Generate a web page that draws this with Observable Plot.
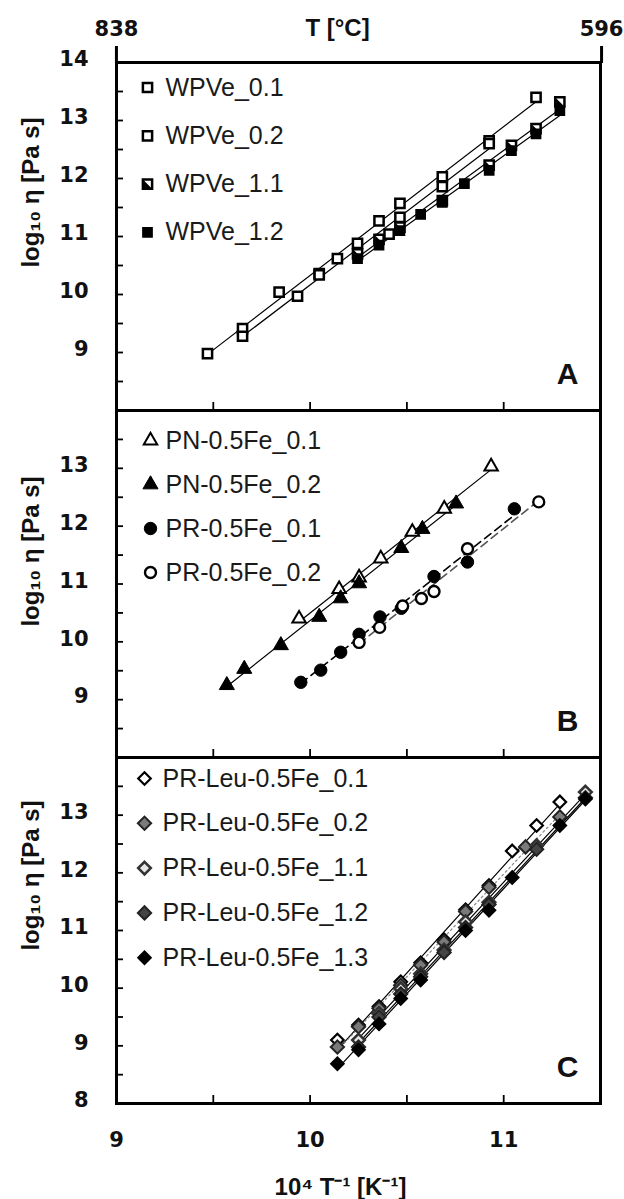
<!DOCTYPE html>
<html><head><meta charset="utf-8">
<script src="https://cdn.jsdelivr.net/npm/d3@7"></script>
<script src="https://cdn.jsdelivr.net/npm/@observablehq/plot@0.6"></script>
<style>
html,body{margin:0;padding:0;background:#fff;}
#chart{position:relative;width:624px;height:1199px;background:#fff;overflow:hidden;}
#chart svg{position:absolute;left:0;overflow:visible;}
g[aria-label="legend"] text{letter-spacing:0.6px;}
</style></head><body><div id="chart"></div>
<script>
// ---------- data: [10^4/T, log10 eta] ----------
const wpve01 = [[9.470,8.98],[9.651,9.41],[9.840,10.04],[10.047,10.36],[10.245,10.88],[10.356,11.27],[10.464,11.57],[10.683,12.03],[10.925,12.65],[11.167,13.40]];
const wpve02 = [[9.651,9.28],[9.935,9.97],[10.047,10.34],[10.141,10.62],[10.408,11.04],[10.464,11.33],[10.683,11.86],[10.925,12.60]];
const wpve11 = [[10.245,10.70],[10.356,10.95],[10.464,11.16],[10.683,11.62],[10.925,12.23],[11.040,12.57],[11.167,12.86],[11.290,13.32]];
const wpve12 = [[10.245,10.62],[10.356,10.85],[10.464,11.10],[10.571,11.38],[10.683,11.59],[10.797,11.91],[10.925,12.14],[11.040,12.48],[11.167,12.77],[11.290,13.17]];

const pn01 = [[9.943,10.40],[10.150,10.91],[10.253,11.11],[10.365,11.44],[10.528,11.90],[10.693,12.30],[10.935,13.03]];
const pn02 = [[9.570,9.25],[9.660,9.53],[9.849,9.94],[10.047,10.43],[10.158,10.75],[10.253,11.01],[10.471,11.62],[10.580,11.95],[10.754,12.39]];
const pr01 = [[9.952,9.30],[10.055,9.51],[10.158,9.82],[10.253,10.13],[10.361,10.43],[10.471,10.58],[10.640,11.13],[10.813,11.38],[11.055,12.30]];
const pr02 = [[10.253,9.99],[10.359,10.25],[10.478,10.62],[10.575,10.75],[10.640,10.87],[10.813,11.61],[11.181,12.42]];

const leu01 = [[10.141,9.10],[10.250,9.36],[10.356,9.68],[10.468,10.11],[10.571,10.44],[10.692,10.84],[10.803,11.36],[10.924,11.78],[11.044,12.38],[11.170,12.82],[11.290,13.23]];
const leu02 = [[10.141,8.98],[10.250,9.33],[10.356,9.65],[10.468,10.05],[10.571,10.40],[10.692,10.80],[10.803,11.33],[10.924,11.75],[11.113,12.45],[11.290,12.97]];
const leu11 = [[10.250,9.10],[10.356,9.56],[10.468,9.99],[10.571,10.25],[10.692,10.66],[10.803,11.15],[10.924,11.49],[11.170,12.47],[11.422,13.40]];
const leu12 = [[10.250,8.98],[10.356,9.50],[10.468,9.90],[10.571,10.20],[10.692,10.62],[10.803,11.05],[10.924,11.45],[11.170,12.41],[11.422,13.30]];
const leu13 = [[10.141,8.69],[10.250,8.93],[10.356,9.38],[10.468,9.82],[10.571,10.14],[10.803,11.00],[10.924,11.35],[11.044,11.92],[11.290,12.82],[11.422,13.28]];

const namesA = ["WPVe_0.1","WPVe_0.2","WPVe_1.1","WPVe_1.2"];
const namesB = ["PN-0.5Fe_0.1","PN-0.5Fe_0.2","PR-0.5Fe_0.1","PR-0.5Fe_0.2"];
const namesC = ["PR-Leu-0.5Fe_0.1","PR-Leu-0.5Fe_0.2","PR-Leu-0.5Fe_1.1","PR-Leu-0.5Fe_1.2","PR-Leu-0.5Fe_1.3"];

// ---------- ticks ----------
const xInnerTicks = [9.5, 10, 10.5, 11];
const xTickLabels = [9, 10, 11];
const yLabelsA = [9, 10, 11, 12, 13, 14];
const yLabelsB = [9, 10, 11, 12, 13];
const yLabelsC = [8, 9, 10, 11, 12, 13];
const yMinorTicks = [8, 8.5, 9, 9.5, 10, 10.5, 11, 11.5, 12, 12.5, 13, 13.5, 14];
const tempTicks = [838, 596];
const yTitle = "log₁₀ η [Pa s]";
const xTitle = "10⁴ T⁻¹ [K⁻¹]";
const topTitle = "T [°C]";

// ---------- styling ----------
const ML = 116, MR = 24, W = 624;
const BOLD_NUM = "DejaVu Sans, Verdana, sans-serif";
const SANS = "Liberation Sans, Arial, sans-serif";
const toRows = arr => arr.map(([x, y]) => ({x, y}));
const intFmt = d => String(d);

const halfSq = {draw(ctx, size){const s = Math.sqrt(size)/2; ctx.moveTo(-s,-s); ctx.lineTo(-s,s); ctx.lineTo(s,s); ctx.closePath();}};
const diamond = {draw(ctx, size){const h = Math.sqrt(size/2); ctx.moveTo(0,-h); ctx.lineTo(h,0); ctx.lineTo(0,h); ctx.lineTo(-h,0); ctx.closePath();}};

const openSq = {symbol: "square", r: 5.2, fill: "white", stroke: "black", strokeWidth: 2.5};
const fullSq = {symbol: "square", r: 5.2, fill: "black", stroke: "black", strokeWidth: 1.5};
const centered = {textAnchor: "middle", lineAnchor: "middle"};

function makePanel(cfg){
  const marks = [
    Plot.axisY({ticks: yMinorTicks, tickSize: -7, tickFormat: () => "", label: null, strokeWidth: 1.8}),
    Plot.axisX({ticks: xInnerTicks, tickSize: -8, tickFormat: () => "", label: null, strokeWidth: 1.8}),
    Plot.axisY({ticks: cfg.yLabels, tickFormat: intFmt, tickSize: 0, tickPadding: 28, label: null, fontSize: 21, fontWeight: "bold", fontFamily: BOLD_NUM, fill: "#111", dy: -3})
  ];
  cfg.series.forEach(s => marks.push(Plot.linearRegressionY(toRows(s.data), {x: "x", y: "y", stroke: s.line || "black", strokeWidth: s.lw || 1.2, strokeDasharray: s.dash, ci: 0})));
  cfg.series.forEach(s => s.dots.forEach(d => marks.push(Plot.dot(toRows(s.data), {x: "x", y: "y", ...d}))));
  marks.push(Plot.frame({stroke: "black", strokeWidth: 3}));
  cfg.series.forEach((s, i) => {
    const dy = cfg.legY + i * cfg.legStep;
    s.dots.forEach(d => marks.push(Plot.dot([s.name], {frameAnchor: "top-left", dx: cfg.legMX - ML, dy, ...d})));
    marks.push(Plot.text([s.name], {frameAnchor: "top-left", dx: cfg.legTX - ML, dy, text: d => d, textAnchor: "start", lineAnchor: "middle", fontSize: 25, fontFamily: SANS, fill: "#1a1a1a", ariaLabel: "legend"}));
  });
  marks.push(Plot.text([yTitle], {frameAnchor: "top-left", dx: -85, dy: cfg.titleY, rotate: -90, text: d => d, ...centered, fontSize: 24, fontWeight: "bold", fontFamily: SANS, fill: "#111"}));
  marks.push(Plot.text([cfg.letter], {frameAnchor: "bottom-right", dx: -33, dy: -36, text: d => d, ...centered, fontSize: 30, fontWeight: "bold", fontFamily: SANS, fill: "#111"}));
  (cfg.extra || []).forEach(m => marks.push(m));
  const svg = Plot.plot({
    width: W, height: cfg.height,
    marginLeft: ML, marginRight: MR, marginTop: cfg.mt, marginBottom: cfg.mb,
    x: {domain: [9, 11.5], label: null},
    y: {domain: [8, 14], label: null},
    style: {background: "transparent", overflow: "visible"},
    marks
  });
  svg.style.top = cfg.top + "px";
  document.getElementById("chart").appendChild(svg);
}

// Panel A
makePanel({
  top: 0, height: 411, mt: 62, mb: 1, yLabels: yLabelsA, letter: "A", titleY: 130,
  legY: 25, legStep: 48.3, legMX: 147, legTX: 165,
  series: [
    {name: namesA[0], data: wpve01, dots: [openSq]},
    {name: namesA[1], data: wpve02, dots: [openSq]},
    {name: namesA[2], data: wpve11, dots: [openSq, {symbol: halfSq, r: 4.3, fill: "black", stroke: "none"}]},
    {name: namesA[3], data: wpve12, dots: [fullSq]}
  ],
  extra: [
    Plot.axisX({anchor: "top", ticks: tempTicks.map(T => 1e4/(T + 273.15)),
      tickFormat: d => String(tempTicks.find(T => Math.abs(1e4/(T + 273.15) - d) < 1e-9)),
      tickSize: 17, tickPadding: 10, label: null, fontSize: 21, fontWeight: "bold", fontFamily: BOLD_NUM, strokeWidth: 3, fill: "#111"}),
    Plot.text([topTitle], {frameAnchor: "top", dx: -21, dy: -34, text: d => d, ...centered, fontSize: 24, fontWeight: "bold", fontFamily: SANS, fill: "#111"})
  ]
});

// Panel B
makePanel({
  top: 399, height: 359, mt: 11, mb: 1, yLabels: yLabelsB, letter: "B", titleY: 141,
  legY: 30, legStep: 44, legMX: 150, legTX: 165,
  series: [
    {name: namesB[0], data: pn01, dots: [{symbol: "triangle", r: 5, fill: "white", stroke: "black", strokeWidth: 2}]},
    {name: namesB[1], data: pn02, dots: [{symbol: "triangle", r: 5.6, fill: "black", stroke: "black", strokeWidth: 1}]},
    {name: namesB[2], data: pr01, dots: [{symbol: "circle", r: 6.2, fill: "black", stroke: "black", strokeWidth: 1}], dash: "8,5", lw: 1.6},
    {name: namesB[3], data: pr02, dots: [{symbol: "circle", r: 5.5, fill: "white", stroke: "black", strokeWidth: 2.4}], dash: "8,5", lw: 1.6, line: "#555"}
  ]
});

// Panel C
makePanel({
  top: 746, height: 453, mt: 11, mb: 96, yLabels: yLabelsC, letter: "C", titleY: 118,
  legY: 21, legStep: 44.8, legMX: 144, legTX: 162,
  series: [
    {name: namesC[0], data: leu01, dots: [{symbol: diamond, r: 5, fill: "white", stroke: "black", strokeWidth: 2.2}]},
    {name: namesC[1], data: leu02, dots: [{symbol: diamond, r: 5.3, fill: "#7a7a7a", stroke: "#222", strokeWidth: 2}], line: "#888", dash: "2,3"},
    {name: namesC[2], data: leu11, dots: [{symbol: diamond, r: 5, fill: "#e6e6e6", stroke: "#333", strokeWidth: 2.6}]},
    {name: namesC[3], data: leu12, dots: [{symbol: diamond, r: 5.3, fill: "#444", stroke: "#222", strokeWidth: 2}]},
    {name: namesC[4], data: leu13, dots: [{symbol: diamond, r: 5.3, fill: "black", stroke: "black", strokeWidth: 1.5}]}
  ],
  extra: [
    Plot.axisX({ticks: xTickLabels, tickFormat: intFmt, tickSize: 0, tickPadding: 29, label: null, fontSize: 21, fontWeight: "bold", fontFamily: BOLD_NUM, fill: "#111"}),
    Plot.text([xTitle], {frameAnchor: "bottom", dx: -18, dy: 84, text: d => d, ...centered, fontSize: 24, fontWeight: "bold", fontFamily: SANS, fill: "#111"})
  ]
});
</script></body></html>
